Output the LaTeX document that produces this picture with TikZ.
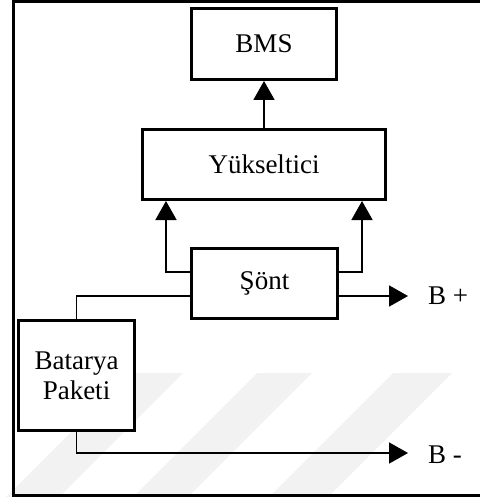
\documentclass[tikz,border=0pt]{standalone}
\usepackage{fontspec}
\setmainfont{Liberation Serif}
\usetikzlibrary{arrows.meta}

\tikzset{
  block/.style={draw=black, fill=white, line width=3pt, inner sep=0pt,
                align=center, font=\fontsize{27}{30}\selectfont},
  conn/.style={draw=black, line width=1.8pt},
  flow/.style={conn, -{Triangle[length=19pt,width=21pt]}},
  terminal/.style={anchor=west, inner sep=0pt, font=\fontsize{27}{27}\selectfont},
  stripe/.style={fill=black!5, draw=none},
  frameline/.style={draw=black, line width=3pt}
}

\begin{document}
\begin{tikzpicture}[x=1pt, y=-1pt]
  \useasboundingbox (0,0) rectangle (480,497);

  % faint diagonal background bands
  \fill[stripe] (130,373) -- (183,373) -- (59,497) -- (6,497) -- cycle;
  \fill[stripe] (257,373) -- (312,373) -- (188,497) -- (133,497) -- cycle;
  \fill[stripe] (393,373) -- (452,373) -- (328,497) -- (269,497) -- cycle;

  % outer frame, open on the right
  \draw[frameline] (480,1.5) -- (13,1.5) -- (13,495) -- (480,495);

  % blocks
  \node[block, minimum width=145pt, minimum height=71pt] (bms) at (264,44) {BMS};
  \node[block, minimum width=243pt, minimum height=70pt] (yuk) at (264,164.5) {Yükseltici};
  \node[block, minimum width=146pt, minimum height=70pt] (sont) at (264.5,283.5) {Şönt};
  \node[block, minimum width=116pt, minimum height=110pt] (bat) at (76.5,375.5) {Batarya\\Paketi};

  % free ends of the output arrows
  \coordinate (bplus) at (408,296);
  \coordinate (bminus) at (408,453);

  % connectors
  \draw[flow] (yuk.north) -- (bms.south);
  \draw[flow] ([yshift=11.5pt]sont.west) -| ([xshift=25pt]yuk.south west);
  \draw[flow] ([yshift=11.5pt]sont.east) -| ([xshift=-25pt]yuk.south east);
  \draw[conn] ([yshift=-12.5pt]sont.west) -| (bat.north);
  \draw[flow] ([yshift=-12.5pt]sont.east) -- (bplus);
  \draw[flow] (bat.south) |- (bminus);

  % terminal labels
  \node[terminal] (lplus) at (428,296) {B +};
  \node[terminal] (lminus) at (428,455) {B -};
\end{tikzpicture}
\end{document}
